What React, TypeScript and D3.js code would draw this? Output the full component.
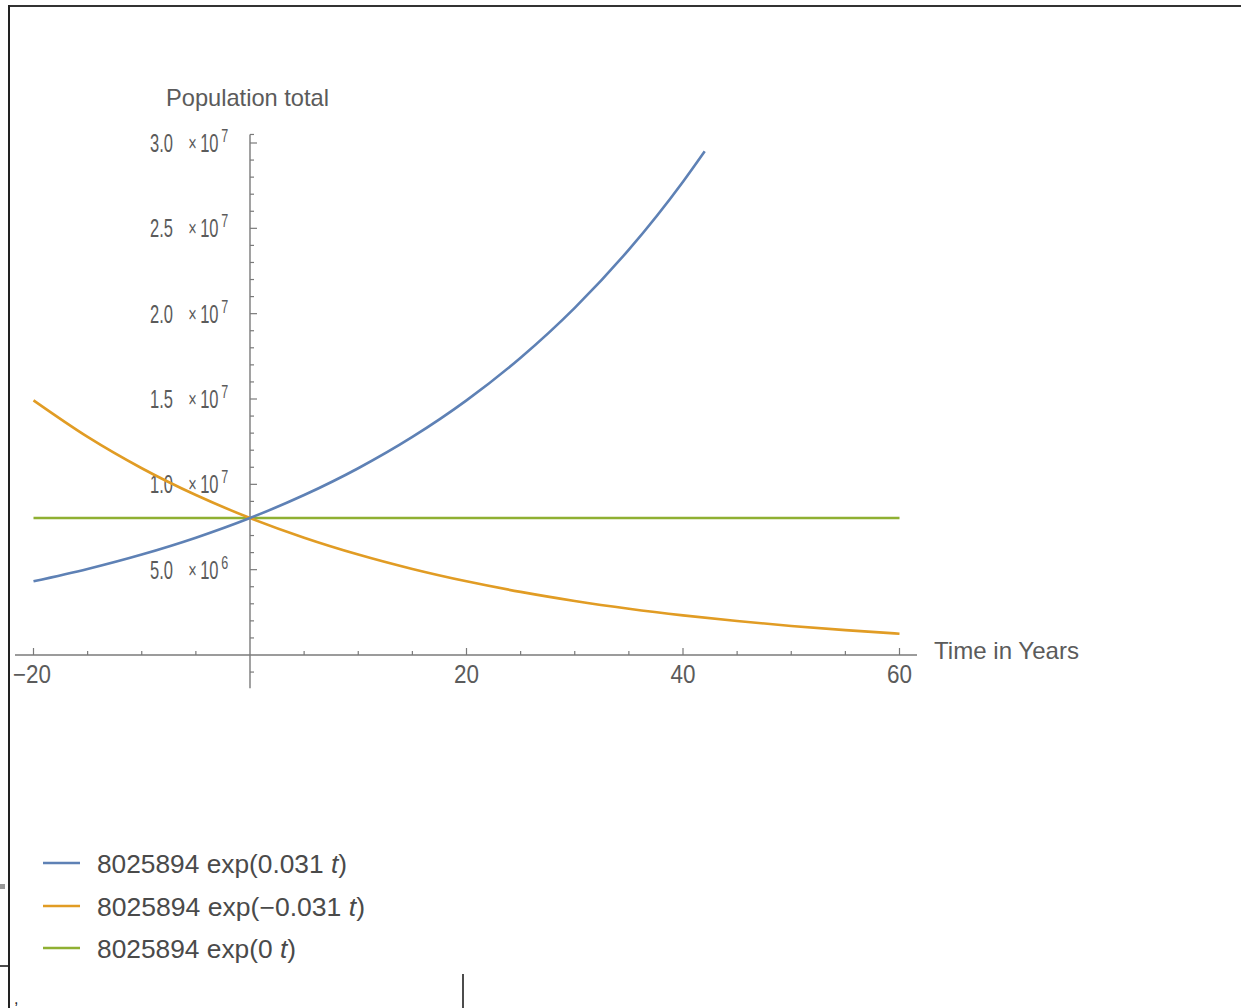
import React, { useEffect, useRef } from 'react';
import * as d3 from 'd3';

// time points (years) and population readings for each curve
const yearsGrowth = [-20, -15, -10, -5, 0, 5, 10, 15, 20, 25, 30, 35, 40, 42];
const popGrowth = [4.317e6, 5.041e6, 5.886e6, 6.873e6, 8.026e6, 9.372e6, 10.943e6, 12.777e6, 14.919e6, 17.421e6, 20.342e6, 23.752e6, 27.734e6, 29.51e6];

const yearsDecay = [-20, -15, -10, -5, 0, 5, 10, 15, 20, 25, 30, 35, 40, 45, 50, 55, 60];
const popDecay = [14.919e6, 12.777e6, 10.943e6, 9.372e6, 8.026e6, 6.873e6, 5.886e6, 5.041e6, 4.317e6, 3.698e6, 3.167e6, 2.712e6, 2.323e6, 1.989e6, 1.703e6, 1.459e6, 1.249e6];

const yearsFlat = [-20, 60];
const popFlat = [8.026e6, 8.026e6];

const seriesNames = ['growth', 'decay', 'flat'];
const seriesColors = ['#5e81b5', '#e19c24', '#8fb032'];

const xMajorTicks = [-20, 20, 40, 60];
const xMinorTicks = [-15, -10, -5, 5, 10, 15, 25, 30, 35, 45, 50, 55];
const yMajorTicks = [5e6, 1e7, 1.5e7, 2e7, 2.5e7, 3e7];
const yMantissa = ['5.0', '1.0', '1.5', '2.0', '2.5', '3.0'];
const yExponent = ['6', '7', '7', '7', '7', '7'];

const FONT = "'Liberation Sans', Arial, sans-serif";

const App = () => {
  const svgRef = useRef<SVGSVGElement | null>(null);

  useEffect(() => {
    document.body.style.margin = '0';
    const svg = d3.select(svgRef.current);
    svg.selectAll('*').remove();

    const x = d3.scaleLinear().domain([-20, 60]).range([33.5, 899.5]);
    const y = d3.scaleLinear().domain([0, 3e7]).range([655, 143]);

    // page frame
    svg.append('line').attr('x1', 8).attr('x2', 1241).attr('y1', 6).attr('y2', 6)
      .attr('stroke', '#333').attr('stroke-width', 2);
    svg.append('line').attr('x1', 9).attr('x2', 9).attr('y1', 5).attr('y2', 1008)
      .attr('stroke', '#222').attr('stroke-width', 2);
    svg.append('rect').attr('x', 0).attr('y', 884).attr('width', 5).attr('height', 5).attr('fill', '#999');
    svg.append('line').attr('x1', 0).attr('x2', 8).attr('y1', 966).attr('y2', 966)
      .attr('stroke', '#111').attr('stroke-width', 1.5);
    svg.append('line').attr('x1', 463).attr('x2', 463).attr('y1', 974).attr('y2', 1008)
      .attr('stroke', '#111').attr('stroke-width', 1.5);
    svg.append('text').attr('x', 14).attr('y', 1004).attr('font-family', FONT)
      .attr('font-size', 16).attr('fill', '#222').text(',');

    const axisColor = '#7a7a7a';
    const labelColor = '#5b5b5b';

    // x axis
    svg.append('line').attr('x1', 15).attr('x2', 917).attr('y1', y(0)).attr('y2', y(0))
      .attr('stroke', axisColor).attr('stroke-width', 1.4);
    xMajorTicks.forEach(t => {
      svg.append('line').attr('x1', x(t)).attr('x2', x(t)).attr('y1', y(0)).attr('y2', y(0) - 7)
        .attr('stroke', axisColor).attr('stroke-width', 1.2);
    });
    xMinorTicks.forEach(t => {
      svg.append('line').attr('x1', x(t)).attr('x2', x(t)).attr('y1', y(0)).attr('y2', y(0) - 4)
        .attr('stroke', axisColor).attr('stroke-width', 1.2);
    });
    xMajorTicks.forEach(t => {
      const label = t < 0 ? '\u2212' + Math.abs(t) : String(t);
      const w = t < 0 ? 38 : 25;
      svg.append('text').attr('x', t < 0 ? 13 : x(t) - w / 2).attr('y', 683)
        .attr('font-family', FONT).attr('font-size', 25).attr('fill', labelColor)
        .attr('textLength', w).attr('lengthAdjust', 'spacingAndGlyphs').text(label);
    });

    // y axis
    const yMinor = d3.range(-1e6, 3.1e7, 1e6).filter(v => v !== 0 && v % 5e6 !== 0);
    svg.append('line').attr('x1', x(0)).attr('x2', x(0)).attr('y1', y(3.05e7)).attr('y2', y(-1.95e6))
      .attr('stroke', axisColor).attr('stroke-width', 1.4);
    svg.append('line').attr('x1', x(0)).attr('x2', x(0) + 4).attr('y1', y(3.05e7)).attr('y2', y(3.05e7))
      .attr('stroke', axisColor).attr('stroke-width', 1.2);
    yMinor.forEach(v => {
      svg.append('line').attr('x1', x(0)).attr('x2', x(0) + 4).attr('y1', y(v)).attr('y2', y(v))
        .attr('stroke', axisColor).attr('stroke-width', 1.2);
    });
    yMajorTicks.forEach((v, i) => {
      const ty = y(v);
      svg.append('line').attr('x1', x(0)).attr('x2', x(0) + 7).attr('y1', ty).attr('y2', ty)
        .attr('stroke', axisColor).attr('stroke-width', 1.2);
      // narrow label: "m × 10^e", horizontally condensed
      const g = svg.append('g').attr('transform', `translate(150,${ty + 9}) scale(0.66,1)`)
        .attr('font-family', FONT).attr('fill', labelColor);
      g.append('text').attr('x', 0).attr('y', 0).attr('font-size', 25).text(yMantissa[i]);
      g.append('text').attr('x', 58).attr('y', -1).attr('font-size', 22).text('\u00d7');
      g.append('text').attr('x', 76).attr('y', 0).attr('font-size', 25).text('10');
      g.append('text').attr('x', 108).attr('y', -10).attr('font-size', 19).text(yExponent[i]);
    });

    // axis titles
    svg.append('text').attr('x', 166).attr('y', 106).attr('font-family', FONT).attr('font-size', 24)
      .attr('fill', labelColor).attr('textLength', 163).attr('lengthAdjust', 'spacingAndGlyphs')
      .text('Population total');
    svg.append('text').attr('x', 934).attr('y', 659).attr('font-family', FONT).attr('font-size', 24)
      .attr('fill', labelColor).attr('textLength', 145).attr('lengthAdjust', 'spacingAndGlyphs')
      .text('Time in Years');

    // curves
    const line = d3.line<[number, number]>()
      .x(d => x(d[0]))
      .y(d => y(d[1]))
      .curve(d3.curveMonotoneX);

    const allSeries: [number, number][][] = [
      yearsGrowth.map((t, i) => [t, popGrowth[i]]),
      yearsDecay.map((t, i) => [t, popDecay[i]]),
      yearsFlat.map((t, i) => [t, popFlat[i]]),
    ];
    [2, 1, 0].forEach(k => {
      svg.append('path').datum(allSeries[k]).attr('d', line)
        .attr('fill', 'none').attr('stroke', seriesColors[k]).attr('stroke-width', 2.6)
        .attr('class', seriesNames[k]);
    });

    // legend
    const legendY = [863, 906, 948];
    const legendW = [250, 268, 199];
    const coef = ['0.031', '\u22120.031', '0'];
    seriesNames.forEach((name, i) => {
      svg.append('line').attr('x1', 43).attr('x2', 80).attr('y1', legendY[i]).attr('y2', legendY[i])
        .attr('stroke', seriesColors[i]).attr('stroke-width', 2.4);
      const t = svg.append('text').attr('x', 97).attr('y', legendY[i] + 10)
        .attr('font-family', FONT).attr('font-size', 25).attr('fill', '#4a4a4a')
        .attr('textLength', legendW[i]).attr('lengthAdjust', 'spacingAndGlyphs');
      t.append('tspan').text('8025894 exp(' + coef[i] + ' ');
      t.append('tspan').attr('font-style', 'italic').text('t');
      t.append('tspan').text(')');
    });
  }, []);

  return (
    <div>
      <svg ref={svgRef} width={1241} height={1008} style={{ display: 'block', background: '#fff' }} />
    </div>
  );
};

export default App;
